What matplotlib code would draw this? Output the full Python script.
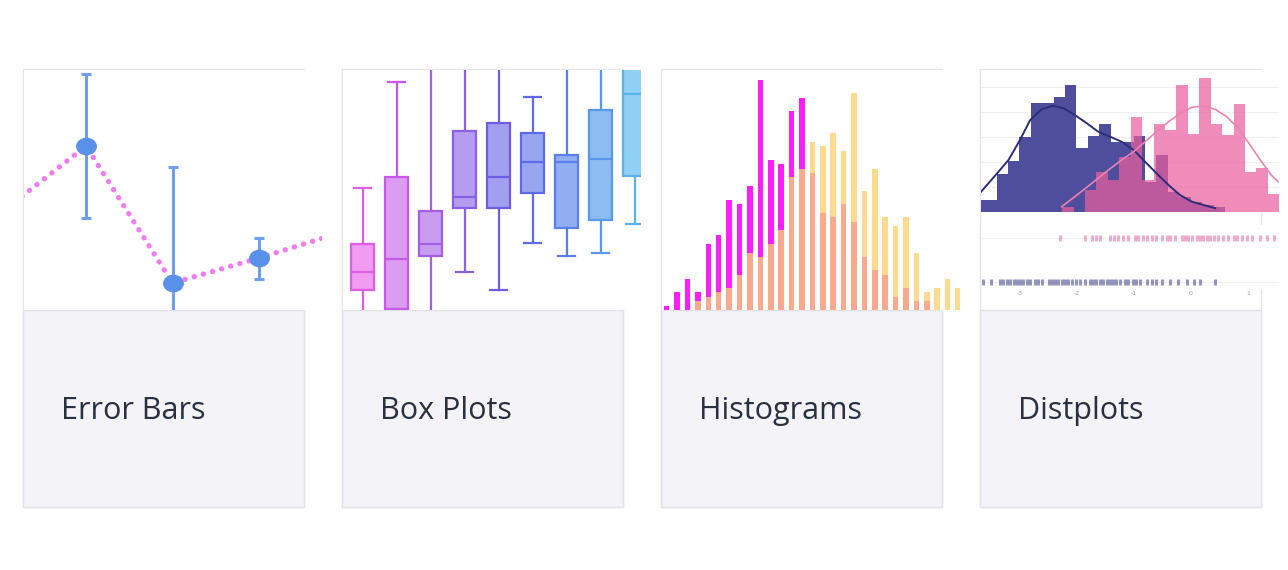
import numpy as np
import matplotlib
matplotlib.use("Agg")
import matplotlib.pyplot as plt
from matplotlib.patches import Rectangle
from matplotlib.path import Path
from matplotlib.transforms import Affine2D

# ---------------- data ----------------
card_labels = ["Error Bars", "Box Plots", "Histograms", "Distplots"]

# Error bars card
eb_x = [1, 2, 3]
eb_y = [16.4, 2.7, 5.2]
eb_err = [7.2, 11.6, 2.05]
trend_x = [0, 1, 2, 3, 4]
trend_y = [9.6, 16.4, 2.7, 5.2, 7.9]

# Box plots card
box_lo = [-2.0, -3.0, -3.0, 3.8, 2.03, 6.73, 5.43, 5.73, 8.57]
box_q1 = [2.03, 0.1, 5.4, 10.2, 10.23, 11.73, 8.23, 8.97, 13.4]
box_med = [3.8, 5.1, 6.6, 11.3, 13.33, 14.8, 14.83, 15.07, 21.57]
box_q3 = [6.63, 13.27, 9.93, 17.87, 18.73, 17.73, 15.53, 19.97, 28.0]
box_hi = [12.23, 22.83, 30.0, 30.0, 30.0, 21.27, 30.0, 30.0, 35.0]
box_edge = ['#e05ce6', '#c659e6', '#a45ee6', '#8a5ee6', '#6e5ee6',
            '#5f6ae6', '#5a7eea', '#5898ea', '#5ab4ea']
box_fill = ['#f09cf2', '#dc9cf2', '#c89cf0', '#b49cf0', '#a29ef0',
            '#98a6f2', '#92aef2', '#8cbcf2', '#90d0f4']

# Histograms card (counts per bin, two overlaid series)
hist_a = [1, 4, 7, 4, 15, 17, 25, 24, 28, 52, 34, 33, 45, 48, 31, 22, 21, 24,
          20, 12, 9, 8, 3, 5, 2, 2, 0, 0, 0]
hist_b = [0, 0, 0, 2, 3, 4, 5, 8, 13, 12, 15, 18, 30, 32, 38, 37, 40, 36, 49,
          27, 32, 21, 19, 21, 13, 4, 5, 7, 5]

# Distplot card
bin_w = 0.2
blue_start = -3.8
blue_hist = [0.047, 0.047, 0.149, 0.204, 0.300, 0.433, 0.433, 0.457, 0.507,
             0.253, 0.304, 0.351, 0.277, 0.277, 0.303, 0.120, 0.227, 0.080,
             0.060, 0.040, 0.028, 0.020]
pink_start = -2.25
pink_hist = [0.020, 0.0, 0.088, 0.160, 0.128, 0.220, 0.380, 0.128, 0.352,
             0.328, 0.508, 0.312, 0.536, 0.352, 0.308, 0.432, 0.160, 0.176,
             0.072]
blue_kde_x = [-3.67, -3.43, -3.19, -2.99, -2.81, -2.61, -2.41, -2.23, -2.03,
              -1.82, -1.62, -1.41, -1.21, -1.0, -0.80, -0.60, -0.39, -0.19,
              0.02, 0.22, 0.43]
blue_kde_y = [0.080, 0.143, 0.207, 0.287, 0.367, 0.410, 0.424, 0.414, 0.387,
              0.354, 0.320, 0.300, 0.280, 0.247, 0.200, 0.154, 0.107, 0.067,
              0.040, 0.027, 0.014]
pink_kde_x = [-2.26, -2.03, -1.73, -1.44, -1.21, -1.0, -0.80, -0.60, -0.39,
              -0.19, 0.02, 0.22, 0.43, 0.63, 0.83, 1.04, 1.24, 1.41, 1.53]
pink_kde_y = [0.020, 0.060, 0.114, 0.167, 0.207, 0.240, 0.280, 0.320, 0.360,
              0.392, 0.418, 0.423, 0.410, 0.380, 0.334, 0.267, 0.200, 0.147,
              0.120]
pink_rug = [-2.29, -1.85, -1.73, -1.65, -1.59, -1.41, -1.34, -1.27, -1.18,
            -1.09, -0.98, -0.92, -0.83, -0.77, -0.68, -0.60, -0.51, -0.42,
            -0.36, -0.27, -0.16, -0.10, -0.04, 0.02, 0.11, 0.16, 0.22, 0.28,
            0.34, 0.40, 0.48, 0.57, 0.66, 0.75, 0.81, 0.89, 0.98, 1.07, 1.21,
            1.33, 1.45]
blue_rug = [-3.63, -3.49, -3.34, -3.28, -3.22, -3.16, -3.10, -3.05, -2.99,
            -2.93, -2.87, -2.81, -2.73, -2.67, -2.61, -2.49, -2.43, -2.38,
            -2.32, -2.26, -2.20, -2.14, -2.08, -2.00, -1.94, -1.85, -1.76,
            -1.71, -1.65, -1.59, -1.53, -1.47, -1.41, -1.36, -1.30, -1.24,
            -1.15, -1.09, -1.01, -0.95, -0.89, -0.77, -0.68, -0.60, -0.51,
            -0.36, -0.22, -0.07, 0.05, 0.16, 0.43]
dist_ticks = [-3, -2, -1, 0, 1]

# ---------------- layout ----------------
W, H = 1288, 570
fig = plt.figure(figsize=(W / 100, H / 100), dpi=100)
fig.patch.set_facecolor('white')

bg = fig.add_axes([0, 0, 1, 1])
bg.set_xlim(0, W)
bg.set_ylim(H, 0)
bg.axis('off')

card_left = [23, 342, 661, 980]
card_w, card_top, img_bot, card_bot = 281, 69, 310, 507

for x0, lab in zip(card_left, card_labels):
    bg.add_patch(Rectangle((x0, card_top), card_w, card_bot - card_top,
                           facecolor='white', edgecolor='#e4e4ea', lw=1.0))
    bg.add_patch(Rectangle((x0, img_bot), card_w, card_bot - img_bot,
                           facecolor='#f3f3f8', edgecolor='#e2e2e9', lw=1.0))
    bg.text(x0 + 38, 411, lab, ha='left', va='center', fontsize=22,
            color='#2a3040', family=['Open Sans', 'DejaVu Sans'])


def img_axes(x0, x1, y0, y1):
    ax = fig.add_axes([x0 / W, 1 - y1 / H, (x1 - x0) / W, (y1 - y0) / H])
    ax.set_facecolor('white')
    for s in ax.spines.values():
        s.set_visible(False)
    ax.set_xticks([])
    ax.set_yticks([])
    return ax


# ---- Card 1: error bars ----
ax1 = img_axes(24, 322, 70, 310)
ax1.plot(trend_x, trend_y, color='#f07df0', lw=3.8, dashes=(0.05, 1.75),
         dash_capstyle='round', zorder=2)
ell = Path.unit_circle().transformed(Affine2D().scale(1.2, 1.0))
ax1.errorbar(eb_x, eb_y, yerr=eb_err, fmt='none', ecolor='#6e9ef0',
             elinewidth=2.2, capsize=3.8, capthick=2.2, zorder=3)
ax1.plot(eb_x, eb_y, linestyle='none', marker=ell, markersize=14,
         color='#5890ea', zorder=4)
ax1.set_xlim(0.283, 3.728)
ax1.set_ylim(0, 24.0)

# ---- Card 2: box plots ----
ax2 = img_axes(343, 641, 70, 310)
stats = []
for lo, q1, med, q3, hi in zip(box_lo, box_q1, box_med, box_q3, box_hi):
    stats.append(dict(whislo=lo, q1=q1, med=med, q3=q3, whishi=hi, fliers=[]))
pos = list(range(len(stats)))
bp = ax2.bxp(stats, positions=pos, widths=0.68, capwidths=0.5,
             patch_artist=True, showfliers=False, manage_ticks=False)
for i in range(len(stats)):
    bp['boxes'][i].set_facecolor(box_fill[i])
    bp['boxes'][i].set_edgecolor(box_edge[i])
    bp['boxes'][i].set_linewidth(1.6)
    bp['medians'][i].set_color(box_edge[i])
    bp['medians'][i].set_linewidth(1.6)
    for j in (2 * i, 2 * i + 1):
        bp['whiskers'][j].set_color(box_edge[i])
        bp['whiskers'][j].set_linewidth(1.6)
        bp['caps'][j].set_color(box_edge[i])
        bp['caps'][j].set_linewidth(1.6)
ax2.set_xlim(-0.579, 8.185)
ax2.set_ylim(0, 24.0)
ax2.set_xticks([])
ax2.set_yticks([])

# ---- Card 3: overlaid histograms ----
ax3 = img_axes(662, 960, 70, 310)
hx = np.arange(len(hist_a))
ha = np.array(hist_a)
hb = np.array(hist_b)
ax3.bar(hx, ha, width=0.53, color='#fd1efd', lw=0)
ax3.bar(hx, hb, width=0.53, color='#fdda8e', lw=0)
ax3.bar(hx, np.minimum(ha, hb), width=0.53, color='#f9a98e', lw=0)
ax3.set_xlim(-0.453, 28.19)
ax3.set_ylim(0, 54.3)

# ---- Card 4: distplot ----
ax4 = img_axes(981, 1279, 70, 211.7)
ax4.set_yticks([0.1, 0.2, 0.3, 0.4, 0.5])
ax4.tick_params(length=0, labelleft=False)
ax4.grid(axis='y', color='#f0f0f3', lw=0.8)
ax4.set_axisbelow(True)
be = blue_start + bin_w * np.arange(len(blue_hist) + 1)
pe = pink_start + bin_w * np.arange(len(pink_hist) + 1)
ax4.stairs(blue_hist, be, fill=True, color='#4e4e9c', lw=0, zorder=2)
ax4.stairs(pink_hist, pe, fill=True, color='#e9609f', alpha=0.72, lw=0,
           zorder=3)
ax4.plot(blue_kde_x, blue_kde_y, color='#2c2c78', lw=1.4, zorder=4)
ax4.plot(pink_kde_x, pink_kde_y, color='#e884b4', lw=1.2, zorder=4)
ax4.set_xlim(-3.672, 1.546)
ax4.set_ylim(0, 0.567)

ax5 = img_axes(981, 1279, 225, 289)
ax5.axhline(1, color='#f3f3f6', lw=0.8, zorder=1)
ax5.axhline(0, color='#efeff2', lw=0.8, zorder=1)
ax5.plot(pink_rug, np.ones(len(pink_rug)), linestyle='none', marker='|',
         markersize=4, mew=2.2, color='#e0609a', alpha=0.5, zorder=2)
ax5.plot(blue_rug, np.zeros(len(blue_rug)), linestyle='none', marker='|',
         markersize=4, mew=2.2, color='#2e2e80', alpha=0.5, zorder=2)
ax5.set_xlim(-3.672, 1.546)
ax5.set_ylim(-0.167, 1.297)
ax5.set_xticks(dist_ticks)
ax5.set_xticklabels([str(t) for t in dist_ticks])
ax5.tick_params(axis='x', length=0, pad=1.5, labelsize=4.5,
                labelcolor='#a0a0a8')

fig.savefig('out.png', dpi=100, facecolor='white')
